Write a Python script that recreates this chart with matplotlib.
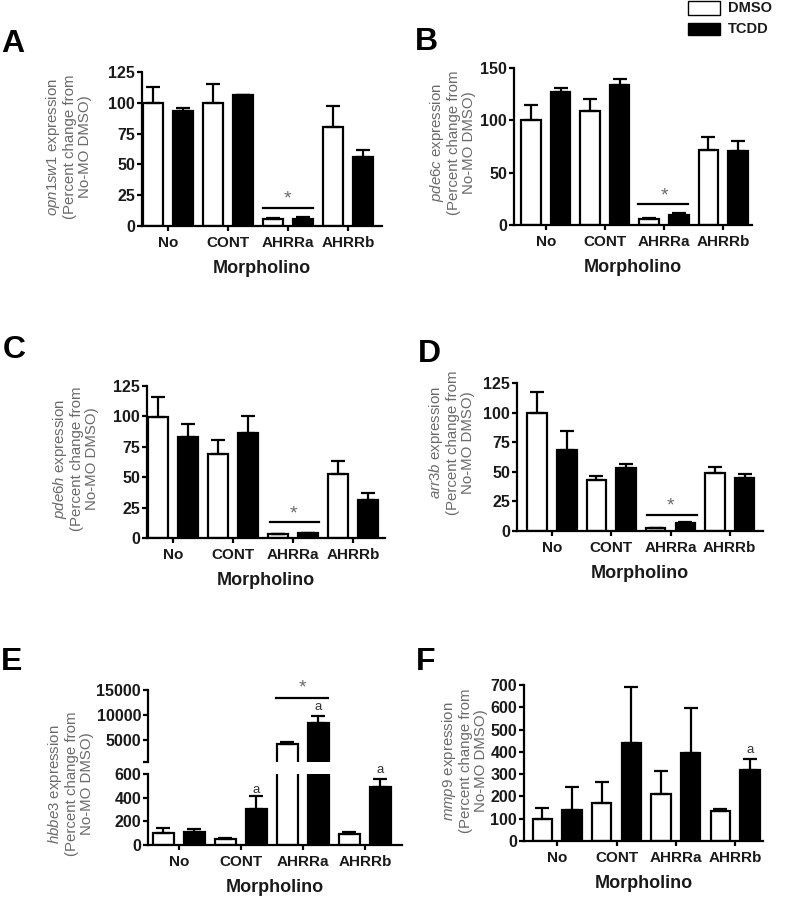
import numpy as np
import matplotlib
matplotlib.use("Agg")
import matplotlib.pyplot as plt
from matplotlib.patches import Rectangle

plt.rcParams['font.family'] = ['Liberation Sans', 'DejaVu Sans']
plt.rcParams['mathtext.fontset'] = 'custom'
plt.rcParams['mathtext.rm'] = 'Liberation Sans'
plt.rcParams['mathtext.it'] = 'Liberation Sans:italic'

# ---------------- data ----------------
categories = ['No', 'CONT', 'AHRRa', 'AHRRb']
series_names = ['DMSO', 'TCDD']

A_gene = 'opn1sw1'
A_dmso = [100, 100, 5.7, 80.5]
A_dmso_sem = [13, 15.5, 1.0, 16.5]
A_tcdd = [93, 106, 5.7, 56]
A_tcdd_sem = [3, 0.5, 1.3, 5.5]
A_yticks = [0, 25, 50, 75, 100, 125]

B_gene = 'pde6c'
B_dmso = [100.5, 109, 5.7, 71.5]
B_dmso_sem = [14.5, 11, 0.7, 12.5]
B_tcdd = [127, 134, 9.6, 71]
B_tcdd_sem = [4, 5.5, 2.2, 9]
B_yticks = [0, 50, 100, 150]

C_gene = 'pde6h'
C_dmso = [99.7, 68.7, 3.0, 52.5]
C_dmso_sem = [16, 11.8, 0.6, 10.5]
C_tcdd = [83, 86.5, 4.1, 31.6]
C_tcdd_sem = [10.4, 13.8, 0.3, 5.4]
C_yticks = [0, 25, 50, 75, 100, 125]

D_gene = 'arr3b'
D_dmso = [99.5, 43, 2.5, 49]
D_dmso_sem = [17.5, 3.7, 0.3, 5.3]
D_tcdd = [68, 53, 6.8, 45]
D_tcdd_sem = [16.6, 4, 0.6, 3]
D_yticks = [0, 25, 50, 75, 100, 125]

E_gene = 'hbbe3'
E_dmso = [99, 48, 4190, 90]
E_dmso_sem = [42, 8, 340, 17]
E_tcdd = [113, 301, 8380, 487]
E_tcdd_sem = [19, 113, 1350, 68]
E_yticks_low = [0, 200, 400, 600]
E_yticks_high = [600, 5000, 10000, 15000]
E_yticklabels_high = ['', '5000', '10000', '15000']

F_gene = 'mmp9'
F_dmso = [100, 171, 210, 135]
F_dmso_sem = [50, 94, 102, 9]
F_tcdd = [141, 441, 396, 318]
F_tcdd_sem = [102, 252, 199, 52]
F_yticks = [0, 100, 200, 300, 400, 500, 600, 700]

# ---------------- figure ----------------
W, H = 786, 899
fig = plt.figure(figsize=(W / 100, H / 100), dpi=100)

TXT = '#1a1a1a'
GRAY = '#6a6a6a'
OFF = 0.25
BW = 0.33
LW = 1.6


def axpos(L, R, T, B):
    return [L / W, 1 - B / H, (R - L) / W, (B - T) / H]


def draw_bars(ax, dmso, dmso_sem, tcdd, tcdd_sem, ymin=None):
    x = np.arange(len(categories))
    dmso = np.asarray(dmso, float)
    tcdd = np.asarray(tcdd, float)
    dmso_sem = np.asarray(dmso_sem, float)
    tcdd_sem = np.asarray(tcdd_sem, float)
    for xs, v, e, fc in [(x - OFF, dmso, dmso_sem, 'white'), (x + OFF, tcdd, tcdd_sem, 'black')]:
        m = np.ones(len(x), bool) if ymin is None else v > ymin
        if m.any():
            ax.bar(xs[m], v[m], width=BW, facecolor=fc, edgecolor='black', linewidth=LW)
            ax.errorbar(xs[m], v[m], yerr=[np.zeros(m.sum()), e[m]], fmt='none',
                        ecolor='black', elinewidth=LW, capsize=5, capthick=LW)


def style(ax, xlim, ylim, yticks, xaxis=True):
    ax.set_xlim(*xlim)
    ax.set_ylim(*ylim)
    ax.set_yticks(yticks)
    for s in ['top', 'right']:
        ax.spines[s].set_visible(False)
    for s in ['left', 'bottom']:
        ax.spines[s].set_linewidth(LW)
    ax.tick_params(axis='y', length=3.5, width=LW, labelsize=11.5, pad=1.5, labelcolor=TXT)
    for t in ax.get_yticklabels():
        t.set_fontweight('bold')
    if xaxis:
        ax.set_xticks(range(len(categories)))
        ax.set_xticklabels(categories, fontweight='bold', fontsize=11, color=TXT)
        ax.tick_params(axis='x', length=3.5, width=LW, pad=4)
        ax.set_xlabel('Morpholino', fontsize=13, fontweight='bold', color=TXT, labelpad=7)
    else:
        ax.set_xticks([])
        ax.spines['bottom'].set_visible(False)


def ylabel(gene, xr, yc):
    fig.text(xr / W, 1 - yc / H,
             r'$\mathit{' + gene + r'}$ expression' + '\n(Percent change from\nNo-MO DMSO)',
             rotation=90, ha='right', va='center', multialignment='center',
             fontsize=10.8, color=GRAY, linespacing=1.1)


def letter(s, x, y):
    fig.text(x / W, 1 - y / H, s, fontsize=23, fontweight='bold', ha='left', va='top', color='black')


def sig(ax, x0, x1, y, ystar):
    ax.plot([x0, x1], [y, y], color='black', lw=LW, clip_on=False)
    ax.text(2, ystar, '*', color=GRAY, ha='center', va='center', fontsize=14, clip_on=False)


# Panel A
axA = fig.add_axes(axpos(142, 382, 72, 226))
draw_bars(axA, A_dmso, A_dmso_sem, A_tcdd, A_tcdd_sem)
style(axA, (-0.433, 3.57), (0, 125), A_yticks)
sig(axA, 1.58, 2.42, 14.8, 22)
ylabel(A_gene, 92, 147)
letter('A', 1, 29)

# Panel B
axB = fig.add_axes(axpos(514, 752, 68, 225))
draw_bars(axB, B_dmso, B_dmso_sem, B_tcdd, B_tcdd_sem)
style(axB, (-0.54, 3.49), (0, 150), B_yticks)
sig(axB, 1.56, 2.41, 19.8, 28)
ylabel(B_gene, 476, 143)
letter('B', 415, 27)

# Panel C
axC = fig.add_axes(axpos(147, 385, 386, 538))
draw_bars(axC, C_dmso, C_dmso_sem, C_tcdd, C_tcdd_sem)
style(axC, (-0.43, 3.53), (0, 125), C_yticks)
sig(axC, 1.62, 2.43, 13, 20)
ylabel(C_gene, 99, 459)
letter('C', 3, 335)

# Panel D
axD = fig.add_axes(axpos(517, 763, 383, 531))
draw_bars(axD, D_dmso, D_dmso_sem, D_tcdd, D_tcdd_sem)
style(axD, (-0.59, 3.56), (0, 125), D_yticks)
sig(axD, 1.6, 2.45, 13.9, 21)
ylabel(D_gene, 475, 443)
letter('D', 418, 339)

# Panel E (broken axis)
axEu = fig.add_axes(axpos(148, 402, 690, 762))
axEl = fig.add_axes(axpos(148, 402, 774, 845))
draw_bars(axEu, E_dmso, E_dmso_sem, E_tcdd, E_tcdd_sem, ymin=E_yticks_high[0])
draw_bars(axEl, E_dmso, E_dmso_sem, E_tcdd, E_tcdd_sem)
style(axEu, (-0.5, 3.6), (600, 15000), E_yticks_high, xaxis=False)
axEu.set_yticklabels(E_yticklabels_high)
for t in axEu.get_yticklabels():
    t.set_fontweight('bold')
style(axEl, (-0.5, 3.6), (0, 600), E_yticks_low)
axEu.plot([1.56, 2.4], [13446, 13446], color='black', lw=LW, clip_on=False)
axEu.text(2, 15400, '*', color=GRAY, ha='center', va='center', fontsize=14, clip_on=False)
axEu.text(2 + OFF, 11620, 'a', color='#333333', ha='center', va='center', fontsize=9.5)
axEl.text(1 + OFF, 465, 'a', color='#333333', ha='center', va='center', fontsize=9.5)
axEl.text(3 + OFF, 634, 'a', color='#333333', ha='center', va='center', fontsize=9.5, clip_on=False)
ylabel(E_gene, 94, 784)
letter('E', 1, 647)

# Panel F
axF = fig.add_axes(axpos(524, 763, 685, 841))
draw_bars(axF, F_dmso, F_dmso_sem, F_tcdd, F_tcdd_sem)
style(axF, (-0.56, 3.47), (0, 700), F_yticks)
axF.text(3 + OFF, 408, 'a', color='#333333', ha='center', va='center', fontsize=9.5)
ylabel(F_gene, 488, 761)
letter('F', 416, 647)

# Legend
fig.add_artist(Rectangle((688 / W, 1 - 15 / H), 32 / W, 14 / H, transform=fig.transFigure,
                         facecolor='white', edgecolor='black', linewidth=1.0))
fig.add_artist(Rectangle((688 / W, 1 - 35 / H), 32 / W, 12 / H, transform=fig.transFigure,
                         facecolor='black', edgecolor='black', linewidth=1.0))
fig.text(728 / W, 1 - 8 / H, series_names[0], fontsize=10.5, fontweight='bold', ha='left', va='center', color=TXT)
fig.text(728 / W, 1 - 29 / H, series_names[1], fontsize=10.5, fontweight='bold', ha='left', va='center', color=TXT)

fig.savefig('out.png', dpi=100, facecolor='white')
